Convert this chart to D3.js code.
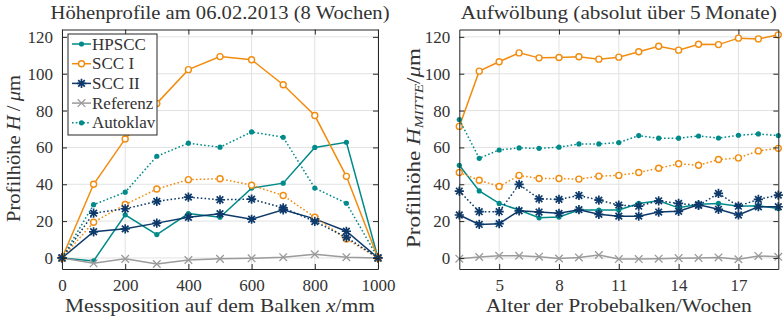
<!DOCTYPE html>
<html><head><meta charset="utf-8">
<script src="https://cdn.jsdelivr.net/npm/d3@7"></script>
<style>
body{margin:0;background:#fff;}
text{font-family:"Liberation Serif","Times New Roman",serif;fill:#333;}
</style></head>
<body><svg id="c" width="783" height="320"></svg>
<script>
// ---------- data ----------
const positions = [0,100,200,300,400,500,600,700,800,900,1000];
const posTicks = [0,200,400,600,800,1000];
const hTicks = [0,20,40,60,80,100,120];
const leftHPSCC   = [0,-1.6,23.4,12.7,24.1,22.1,37.9,40.6,60,62.8,0];
const leftSCC1    = [0,40,64.6,83.9,102.2,109.3,107.6,94,77.3,44.3,0];
const leftSCC2    = [0,14.2,15.8,18.9,22.1,24,21,26.1,21.2,14.5,0];
const leftRef     = [0,-2.9,-0.5,-3.3,-1.1,-0.5,-0.2,0.4,2.0,0.4,0];
const leftAutoH   = [0,28.9,35.7,55.2,62.3,60.1,68.4,65.5,37.9,29.7,0];
const leftAutoS1  = [0,19.4,29,37.4,42.5,43,39.5,33.9,22.1,10.3,0];
const leftAutoS2  = [0,24.3,26.7,30.7,33,31.6,31.9,27.2,19.8,11.2,0];

const weeks = [3,4,5,6,7,8,9,10,11,12,13,14,15,16,17,18,19];
const weekTicks = [5,8,11,14,17];
const rightHPSCC  = [50.3,36.4,29.6,26,21.8,22.2,26,26,26,29.6,31,27.2,29.2,29.6,28.1,28.3,26.9];
const rightSCC1   = [71.4,101.4,106.5,111.3,108.6,108.8,109.2,107.9,109,111.9,114.9,112.8,116,115.8,119.3,118.9,121.1];
const rightSCC2   = [23.3,18.2,18.6,25.6,24.9,24.2,26.2,23.7,22.7,22.7,24.9,25.3,28.9,26.4,23.3,27.8,27.8];
const rightRef    = [-0.4,0.5,1.2,1.2,0.7,-0.3,0.3,1.6,-0.6,-0.6,-0.4,-0.1,0,0.3,-0.7,1.1,0.6];
const rightAutoH  = [75.1,54.1,58.6,59.7,59.5,60.1,61.9,61.9,62.6,66.4,65,65,66.2,65.1,66.6,67.3,66.4];
const rightAutoS1 = [46.4,42.2,38.8,44.8,43.1,43.1,42.8,44.4,44.8,46.4,48.7,51.1,50.3,53.4,54.3,58.1,59.5];
const rightAutoS2 = [36.3,25.1,25.1,39.9,32.1,31.8,33.9,31.4,28.7,28.1,31,29.6,28.5,35,28.1,31.8,34.1];

const legendNames = ["HPSCC","SCC I","SCC II","Referenz","Autoklav"];

// ---------- styles ----------
const C = {teal:"#008a8a", orange:"#f28c0f", navy:"#0d3a6a", gray:"#9b9b9b"};

const svg = d3.select("#c");
const yDomain = [-6,124];
const plotTop = 29.5, plotBottom = 269;

function markerPath(type){
  if(type==="star"){const s=4.6,d=s*0.72;return `M${-s},0L${s},0M0,${-s}L0,${s}M${-d},${-d}L${d},${d}M${-d},${d}L${d},${-d}`;}
  if(type==="x"){const s=3.8;return `M${-s},${-s}L${s},${s}M${-s},${s}L${s},${-s}`;}
  return null;
}
function drawMarker(g,type,color,x,y){
  if(type==="dot") g.append("circle").attr("cx",x).attr("cy",y).attr("r",2.6).attr("fill",color);
  else if(type==="circle") g.append("circle").attr("cx",x).attr("cy",y).attr("r",3).attr("fill","#fff").attr("stroke",color).attr("stroke-width",1.4);
  else g.append("path").attr("transform",`translate(${x},${y})`).attr("d",markerPath(type)).attr("stroke",color).attr("stroke-width",type==="star"?1.7:1.3).attr("fill","none");
}

function panel(xs, xDom, xRange, xTickVals, series, opts){
  const x = d3.scaleLinear().domain(xDom).range(xRange);
  const y = d3.scaleLinear().domain(yDomain).range([plotBottom, plotTop]);
  const g = svg.append("g");
  g.append("g").selectAll("line").data(xTickVals).join("line")
    .attr("x1",d=>x(d)).attr("x2",d=>x(d)).attr("y1",plotTop).attr("y2",plotBottom).attr("stroke","#e2e2e2").attr("stroke-width",1);
  g.append("g").selectAll("line").data(hTicks).join("line")
    .attr("y1",d=>y(d)).attr("y2",d=>y(d)).attr("x1",xRange[0]).attr("x2",xRange[1]).attr("stroke","#e2e2e2").attr("stroke-width",1);
  series.forEach(s=>{
    const pts = xs.map((d,i)=>[x(d),y(s.values[i])]);
    g.append("path").attr("d",d3.line()(pts)).attr("fill","none").attr("stroke",s.color)
      .attr("stroke-width",1.5).attr("stroke-dasharray",s.dash?"1.6,2.2":null);
    const mg = g.append("g");
    pts.forEach(p=>drawMarker(mg,s.marker,s.color,p[0],p[1]));
  });
  const axStyle = a=>{a.select(".domain").attr("stroke","#262626").attr("stroke-width",1);
    a.selectAll(".tick line").attr("stroke","#262626");
    a.selectAll("text").attr("fill","#333").style("font-size","17px").style("font-family",'"Liberation Serif",serif');};
  g.append("g").attr("transform",`translate(0,${plotBottom})`)
    .call(d3.axisBottom(x).tickValues(xTickVals).tickFormat(d3.format("d")).tickSizeInner(-5).tickSizeOuter(0).tickPadding(10))
    .call(axStyle);
  g.append("g").attr("transform",`translate(0,${plotTop})`)
    .call(d3.axisTop(x).tickValues(xTickVals).tickSizeInner(-5).tickSizeOuter(0).tickFormat(""))
    .call(axStyle);
  g.append("g").attr("transform",`translate(${xRange[0]},0)`)
    .call(d3.axisLeft(y).tickValues(hTicks).tickFormat(d3.format("d")).tickSizeInner(-5).tickSizeOuter(0).tickPadding(9))
    .call(axStyle);
  g.append("g").attr("transform",`translate(${xRange[1]},0)`)
    .call(d3.axisRight(y).tickValues(hTicks).tickSizeInner(-5).tickSizeOuter(0).tickFormat(""))
    .call(axStyle);
  g.append("text").attr("x",(xRange[0]+xRange[1])/2).attr("y",18.5).attr("text-anchor","middle")
    .style("font-size","18px").attr("textLength",opts.titleLen).attr("lengthAdjust","spacingAndGlyphs").text(opts.title);
  const xl = g.append("text").attr("x",(xRange[0]+xRange[1])/2).attr("y",312).attr("text-anchor","middle").style("font-size","18px")
    .attr("textLength",opts.xlabelLen).attr("lengthAdjust","spacingAndGlyphs");
  opts.xlabel(xl);
  const yl = g.append("text").attr("transform",`translate(${opts.ylx},${opts.ylc}) rotate(-90)`).attr("text-anchor","middle").style("font-size","18px")
    .attr("textLength",opts.ylabelLen).attr("lengthAdjust","spacingAndGlyphs");
  opts.ylabel(yl);
  return {x,y,g};
}

const L = panel(positions,[0,1000],[62,378],posTicks,[
  {values:leftHPSCC,color:C.teal,marker:"dot"},
  {values:leftSCC1,color:C.orange,marker:"circle"},
  {values:leftSCC2,color:C.navy,marker:"star"},
  {values:leftRef,color:C.gray,marker:"x"},
  {values:leftAutoH,color:C.teal,marker:"dot",dash:true},
  {values:leftAutoS1,color:C.orange,marker:"circle",dash:true},
  {values:leftAutoS2,color:C.navy,marker:"star",dash:true}
],{
  title:"Höhenprofile am 06.02.2013 (8 Wochen)", titleLen:339,
  xlabelLen:310,
  xlabel:t=>{t.append("tspan").text("Messposition auf dem Balken ");t.append("tspan").style("font-style","italic").text("x");t.append("tspan").text("/mm");},
  ylx:20, ylc:148.5, ylabelLen:147,
  ylabel:t=>{t.append("tspan").text("Profilhöhe ");t.append("tspan").style("font-style","italic").text("H");t.append("tspan").text("\u2009/\u2009");t.append("tspan").style("font-style","italic").text("μ");t.append("tspan").text("m");}
});

const R = panel(weeks,[3,19],[459.3,778.3],weekTicks,[
  {values:rightHPSCC,color:C.teal,marker:"dot"},
  {values:rightSCC1,color:C.orange,marker:"circle"},
  {values:rightSCC2,color:C.navy,marker:"star"},
  {values:rightRef,color:C.gray,marker:"x"},
  {values:rightAutoH,color:C.teal,marker:"dot",dash:true},
  {values:rightAutoS1,color:C.orange,marker:"circle",dash:true},
  {values:rightAutoS2,color:C.navy,marker:"star",dash:true}
],{
  title:"Aufwölbung (absolut über 5\u2009Monate)", titleLen:316,
  xlabelLen:266,
  xlabel:t=>{t.text("Alter der Probebalken/Wochen");},
  ylx:420, ylc:148, ylabelLen:200,
  ylabel:t=>{t.append("tspan").text("Profilhöhe ");t.append("tspan").style("font-style","italic").text("H");
    t.append("tspan").style("font-style","italic").style("font-size","12px").attr("dy",3).text("MITTE");
    t.append("tspan").attr("dy",-3).text("/");t.append("tspan").style("font-style","italic").text("μ");t.append("tspan").text("m");}
});

const lg = svg.append("g");
lg.append("rect").attr("x",68).attr("y",34).attr("width",89).attr("height",101).attr("fill","#fff").attr("stroke","#262626").attr("stroke-width",1);
const legSpec = [
  {color:C.teal,marker:"dot"},{color:C.orange,marker:"circle"},{color:C.navy,marker:"star"},{color:C.gray,marker:"x"},{color:C.teal,marker:"dot",dash:true}
];
legendNames.forEach((name,i)=>{
  const yy = 44 + i*19.7;
  lg.append("line").attr("x1",72).attr("x2",91).attr("y1",yy).attr("y2",yy).attr("stroke",legSpec[i].color).attr("stroke-width",1.5)
    .attr("stroke-dasharray",legSpec[i].dash?"1.6,2.2":null);
  drawMarker(lg,legSpec[i].marker,legSpec[i].color,81.5,yy);
  lg.append("text").attr("x",92).attr("y",yy+5.5).style("font-size","17px").text(name);
});
</script></body></html>
